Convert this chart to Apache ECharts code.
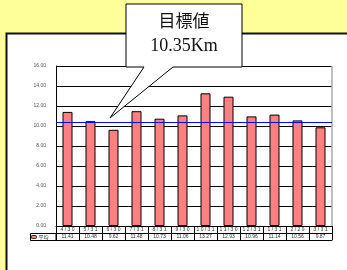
<!DOCTYPE html>
<html><head><meta charset="utf-8">
<script src="https://cdn.jsdelivr.net/npm/echarts@6/dist/echarts.min.js"></script>
<style>html,body{margin:0;padding:0;background:#FFFF99;}#c{width:347px;height:270px;}</style>
</head><body><div id="c"></div>
<script>
const categories = ['4/30','5/31','6/30','7/31','8/31','9/30','10/31','11/30','12/31','1/31','2/29','3/31'];
const values = [11.41,10.48,9.62,11.48,10.73,11.06,13.27,12.93,10.96,11.14,10.56,9.87];
const seriesName = '平均';
const target = 10.35;
const yTicks = {min:0, max:16, interval:2};
const calloutLines = ['目標値', '10.35Km'];

const chart = echarts.init(document.getElementById('c'), null, {renderer:'canvas'});
const small = {fontSize:5, color:'#333', fontFamily:'Liberation Sans'};
const spaced = s => s.split('').join(' ');
chart.setOption({
  animation:false,
  backgroundColor:'#FFFF99',
  grid:{left:56, top:66, width:276, height:160},
  legend:{show:true, left:31, top:234.5, itemWidth:5, itemHeight:3, itemGap:2, padding:0,
    textStyle:{fontSize:5, color:'#333', fontFamily:'Noto Sans CJK JP', padding:[0,0,0,-3]},
    data:[{name:seriesName, itemStyle:{color:'#FF8080', borderColor:'#000', borderWidth:0.8}}]},
  xAxis:[
    {type:'category', data:categories, position:'bottom',
     axisLine:{lineStyle:{color:'#000', width:1}},
     axisTick:{show:true, length:7, interval:0, lineStyle:{color:'#000'}},
     axisLabel:{...small, margin:1.5, interval:0, hideOverlap:false, formatter:spaced}},
    {type:'category', data:values.map(v=>v.toFixed(2)), position:'bottom', offset:7,
     axisLine:{lineStyle:{color:'#000', width:1}},
     axisTick:{show:true, length:7, interval:0, lineStyle:{color:'#000'}},
     axisLabel:{...small, margin:1.5, interval:0, hideOverlap:false}},
    {type:'category', data:categories, position:'bottom', offset:14,
     axisLine:{lineStyle:{color:'#000', width:1}},
     axisTick:{show:false}, axisLabel:{show:false}}
  ],
  yAxis:{type:'value', min:yTicks.min, max:yTicks.max, interval:yTicks.interval,
    axisLine:{show:true, lineStyle:{color:'#000'}},
    axisTick:{show:false},
    axisLabel:{...small, color:'#555', margin:10, formatter:v=>v.toFixed(2)},
    splitLine:{show:true, lineStyle:{color:'#000', width:1}}},
  series:[{
    name:seriesName, type:'bar', data:values, barWidth:10, xAxisIndex:0,
    itemStyle:{color:'#FF8080', borderColor:'#000', borderWidth:1},
    markLine:{silent:true, symbol:'none', label:{show:false},
      lineStyle:{color:'#0000FF', width:1.2, type:'solid'},
      data:[{yAxis:target}]}
  }],
  graphic:[
    {type:'rect', shape:{x:6.5, y:33.5, width:400, height:300}, style:{fill:'#fff', stroke:'#111', lineWidth:2}, z:-10},
    {type:'line', shape:{x1:332, y1:66, x2:332, y2:226}, style:{stroke:'#aaa', lineWidth:1.5}, z:1},
    {type:'rect', shape:{x:30.5, y:233.5, width:25.5, height:7}, style:{fill:'none', stroke:'#000', lineWidth:1}, z:5},
    {type:'polygon', shape:{points:[[126,4],[242,4],[242,67],[173,67],[110,118],[144,67],[126,67]]},
     style:{fill:'#fff', stroke:'#000', lineWidth:1}, z:20},
    {type:'text', x:184, y:21, style:{text:calloutLines[0], font:'17px "Noto Sans CJK JP"', fill:'#111', align:'center', verticalAlign:'middle'}, z:21},
    {type:'text', x:184, y:46, style:{text:calloutLines[1], font:'18px "Liberation Serif"', fill:'#111', align:'center', verticalAlign:'middle'}, z:21}
  ]
});
</script></body></html>
